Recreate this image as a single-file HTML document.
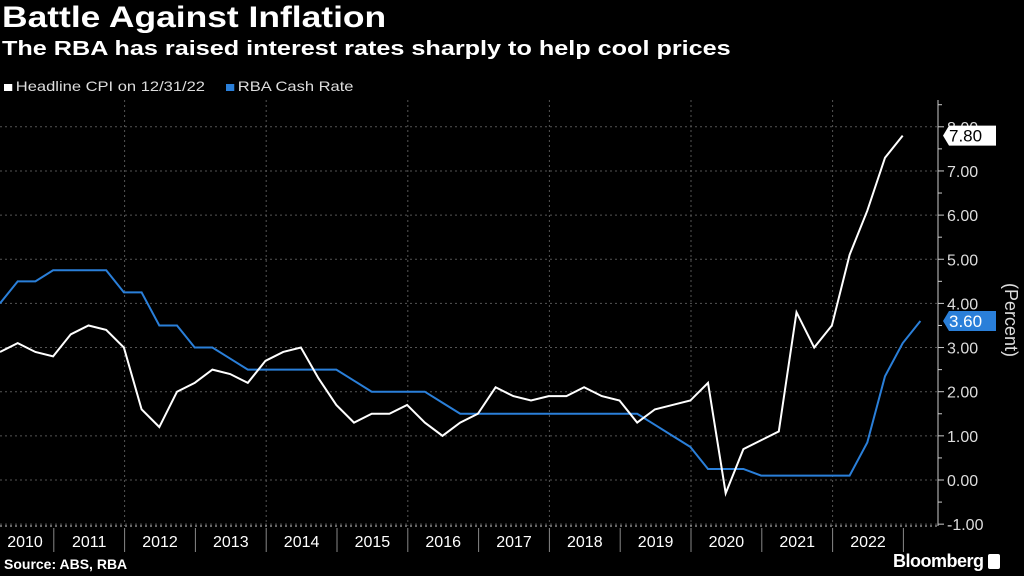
<!DOCTYPE html>
<html><head><meta charset="utf-8">
<style>
body{margin:0;background:#000;width:1024px;height:576px;overflow:hidden;font-family:"Liberation Sans",sans-serif;color:#fff}
.t{position:absolute;white-space:nowrap;transform-origin:0 0}
</style></head>
<body>
<div class="t" style="left:2px;top:1px;font-size:30px;font-weight:bold;transform:scaleX(1.18)">Battle Against Inflation</div>
<div class="t" style="left:2px;top:38px;font-size:20px;font-weight:bold;transform:scaleX(1.26)">The RBA has raised interest rates sharply to help cool prices</div>
<div class="t" style="left:4px;top:78px;font-size:14px;color:#ddd;transform:scaleX(1.18)"><span style="display:inline-block;width:7px;height:7px;background:#fff;margin-right:3px"></span>Headline CPI on 12/31/22</div>
<div class="t" style="left:226px;top:78px;font-size:14px;color:#ddd;transform:scaleX(1.18)"><span style="display:inline-block;width:7px;height:7px;background:#2a7fd9;margin-right:3px"></span>RBA Cash Rate</div>
<svg id="chart" width="1024" height="576" style="position:absolute;left:0;top:0"></svg>
<div class="t" style="left:4px;top:556px;font-size:14px;font-weight:bold">Source: ABS, RBA</div>
<div class="t" style="left:893px;top:551px;font-size:18px;font-weight:bold;letter-spacing:-0.5px">Bloomberg <span style="display:inline-block;width:12px;height:15px;background:#fff;border-radius:2px;vertical-align:-2px"></span></div>
<script>
const years=["2010","2011","2012","2013","2014","2015","2016","2017","2018","2019","2020","2021","2022"];
const yTicks=[-1,0,1,2,3,4,5,6,7,8];
const cpi=[2.9,3.1,2.9,2.8,3.3,3.5,3.4,3.0,1.6,1.2,2.0,2.2,2.5,2.4,2.2,2.7,2.9,3.0,2.3,1.7,1.3,1.5,1.5,1.7,1.3,1.0,1.3,1.5,2.1,1.9,1.8,1.9,1.9,2.1,1.9,1.8,1.3,1.6,1.7,1.8,2.2,-0.3,0.7,0.9,1.1,3.8,3.0,3.5,5.1,6.1,7.3,7.8];
const cash=[4.0,4.5,4.5,4.75,4.75,4.75,4.75,4.25,4.25,3.5,3.5,3.0,3.0,2.75,2.5,2.5,2.5,2.5,2.5,2.5,2.25,2.0,2.0,2.0,2.0,1.75,1.5,1.5,1.5,1.5,1.5,1.5,1.5,1.5,1.5,1.5,1.5,1.25,1.0,0.75,0.25,0.25,0.25,0.1,0.1,0.1,0.1,0.1,0.1,0.85,2.35,3.1,3.6];
const svg=document.getElementById('chart');const NS='http://www.w3.org/2000/svg';
const y=v=>480-v*44.15;
const xq=i=>i*17.7;
const yrStart=i=>-17+i*70.8;
function mk(tag,a){const e=document.createElementNS(NS,tag);for(const k in a)e.setAttribute(k,a[k]);svg.appendChild(e);return e;}
yTicks.forEach(v=>{const l=mk('line',{x1:0,x2:938,y1:y(v),y2:y(v),stroke:'#555','stroke-dasharray':'2,3'});


const tk=mk('line',{x1:938,x2:944,y1:y(v),y2:y(v),stroke:'#ccc'});


const tm=mk('line',{x1:938,x2:942,y1:y(v+0.5),y2:y(v+0.5),stroke:'#ccc'});


const t=mk('text',{x:947,y:y(v)+6,fill:'#ddd','font-size':'16','font-family':'Liberation Sans'});t.textContent=v.toFixed(2);

});
years.forEach((yr,i)=>{const x0=yrStart(i),x1=yrStart(i+1);
if(i%2==1){const g=mk('line',{x1:x1,x2:x1,y1:100,y2:526,stroke:'#555','stroke-dasharray':'2,3'});

}
const d=mk('line',{x1:x1,x2:x1,y1:528,y2:552,stroke:'#888'});


const t=mk('text',{x:Math.max((x0+x1)/2,25),y:547,fill:'#fff','font-size':'16','text-anchor':'middle','font-family':'Liberation Sans'});t.textContent=yr;

});
const ax=mk('line',{x1:938,x2:938,y1:100,y2:526,stroke:'#ccc'});


const bx=mk('line',{x1:0,x2:938,y1:526,y2:526,stroke:'#ccc','stroke-dasharray':'2,3'});


function line(arr,color,name){const p=mk('polyline',{points:arr.map((v,i)=>xq(i)+','+y(v)).join(' '),fill:'none',stroke:color,'stroke-width':'2'});

}
line(cash,'#2a7fd9','cash-rate-line');
line(cpi,'#fff','cpi-line');
function tag(v,bg,fg,name){const yy=y(v);
const g=mk('polygon',{points:`943,${yy} 949,${yy-10} 996,${yy-10} 996,${yy+10} 949,${yy+10}`,fill:bg});


const t=mk('text',{x:949,y:yy+6,fill:fg,'font-size':'17','font-family':'Liberation Sans'});t.textContent=v.toFixed(2);

}
tag(cpi[cpi.length-1],'#fff','#000','cpi-last-value');
tag(cash[cash.length-1],'#2a7fd9','#fff','cash-last-value');
const pt=mk('text',{x:1005,y:320,fill:'#ddd','font-size':'18','text-anchor':'middle',transform:'rotate(90 1005 320)','font-family':'Liberation Sans'});pt.textContent='(Percent)';


</script>
</body></html>
